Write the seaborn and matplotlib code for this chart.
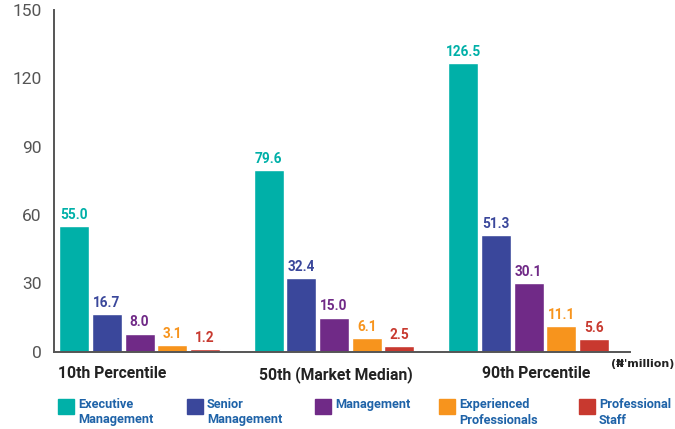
import pandas as pd
import matplotlib
matplotlib.use("Agg")
import matplotlib.pyplot as plt
import seaborn as sns
from matplotlib.patches import Rectangle

# chart data
groups = ['10th Percentile', '50th (Market Median)', '90th Percentile']
levels = ['Executive\nManagement', 'Senior\nManagement', 'Management',
          'Experienced\nProfessionals', 'Professional\nStaff']
values = {
    'Executive\nManagement': [55.0, 79.6, 126.5],
    'Senior\nManagement': [16.7, 32.4, 51.3],
    'Management': [8.0, 15.0, 30.1],
    'Experienced\nProfessionals': [3.1, 6.1, 11.1],
    'Professional\nStaff': [1.2, 2.5, 5.6],
}
colors = ['#00b0a8', '#3a479b', '#702a87', '#f7941d', '#c8392f']
yticks = [0, 30, 60, 90, 120, 150]

rows = []
for lvl in levels:
    for g, v in zip(groups, values[lvl]):
        rows.append({'group': g, 'level': lvl, 'value': v})
df = pd.DataFrame(rows)

sns.set_style('white')
plt.rcParams['font.family'] = ['Roboto', 'DejaVu Sans']

fig = plt.figure(figsize=(6.75, 4.29), dpi=100)
ax = fig.add_axes([0.08, 0.18, 0.853, 0.797])

sns.barplot(data=df, x='group', y='value', hue='level', hue_order=levels,
            palette=colors, width=0.84, gap=0.08, saturation=1,
            legend=False, ax=ax)

for cont, c in zip(ax.containers, colors):
    ax.bar_label(cont, fmt='%.1f', padding=3, color=c,
                 fontweight='bold', fontsize=9.8)

ax.set_ylim(0, 150)
ax.set_xlim(-0.44, 2.52)
ax.set_yticks(yticks)
ax.tick_params(axis='y', direction='in', length=12, width=1.3,
               color='#555555', labelcolor='#555555', labelsize=12.5, pad=9)
ax.set_xticks([-0.14, 1.01, 2.04])
ax.set_xticklabels(groups, fontweight='bold', fontsize=11.3, color='#222222')
ax.tick_params(axis='x', length=0, pad=10)
ax.set_xlabel('')
ax.set_ylabel('')
sns.despine(ax=ax)
for s in ['left', 'bottom']:
    ax.spines[s].set_color('#555555')
    ax.spines[s].set_linewidth(1.4)

fig.text(0.905, 0.145, "(\u20a6'million)", fontsize=8, fontweight='bold',
         color='#222222', family=['DejaVu Sans'])

# legend
lx = [58, 187, 315, 439, 579]
for x, c, lab in zip(lx, colors, levels):
    fig.add_artist(Rectangle((x / 675, 1 - 414 / 429), 16 / 675, 15 / 429,
                             transform=fig.transFigure, color=c))
    fig.text((x + 20) / 675, 1 - 398 / 429, lab, fontsize=9.2,
             fontweight='bold', color='#1f63a8', va='top', linespacing=1.25)

fig.savefig('out.png', dpi=100)
